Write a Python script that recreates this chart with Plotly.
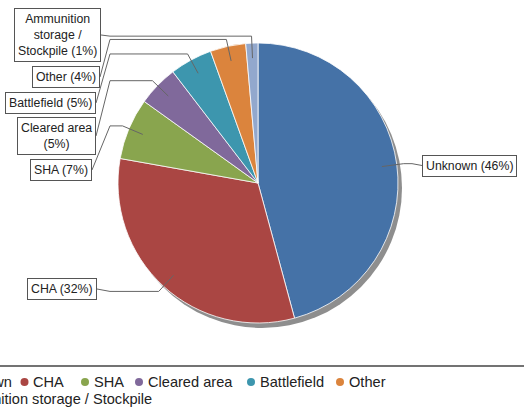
import math
import plotly.graph_objects as go

W, H = 524, 417

# ---- data ----
categories = ["Unknown", "CHA", "SHA", "Cleared area", "Battlefield", "Other",
              "Ammunition storage / Stockpile"]
values = [45.8, 32.0, 7.1, 4.7, 4.9, 4.1, 1.4]
label_templates = ["Unknown ({p}%)", "CHA ({p}%)", "SHA ({p}%)", "Cleared area<br>({p}%)",
                   "Battlefield ({p}%)", "Other ({p}%)", "Ammunition<br>storage /<br>Stockpile ({p}%)"]
colors = ["#4572A7", "#AA4643", "#89A54E", "#80699B", "#3D96AE", "#DB843D", "#92A8CD"]

# ---- layout constants (pixels) ----
CX, CY, R = 258, 183, 140
SHADOW_DX, SHADOW_DY = 4, 5
R_IN, R_BEND = R - 15, R + 7
label_side = ["right", "left", "left", "left", "left", "left", "left"]
label_edge_x = [422, 97, 92, 96, 96, 100, 101]
label_y = [165.5, 289, 170, 136, 103, 77, 35]
COL_LEFT, COL_RIGHT = 110, 412

legend_rows = [[0, 1, 2, 3, 4, 5], [6]]
legend_dot_x = [[-58, 24.5, 85, 139, 251, 340], [-58]]
legend_row_y = [382, 399]

FONT = "Liberation Sans, Arial, Helvetica, sans-serif"


def px(x):
    return x / W


def py(y):
    return 1 - y / H


fig = go.Figure()

# shadow pie
fig.add_trace(go.Pie(
    values=[1], labels=["shadow"], sort=False, textinfo="none", hoverinfo="skip",
    marker=dict(colors=["#8e8e8e"], line=dict(width=0)),
    domain=dict(x=[px(CX - R + SHADOW_DX), px(CX + R + SHADOW_DX)],
                y=[py(CY + R + SHADOW_DY), py(CY - R + SHADOW_DY)]),
    showlegend=False,
))

# main pie
fig.add_trace(go.Pie(
    values=values, labels=categories, sort=False, direction="clockwise", rotation=0,
    textinfo="none", hoverinfo="label+percent",
    marker=dict(colors=colors, line=dict(color="white", width=0.8)),
    domain=dict(x=[px(CX - R), px(CX + R)], y=[py(CY + R), py(CY - R)]),
    showlegend=False,
))

shapes = []
annotations = []

total = sum(values)
cum = 0.0
for i, v in enumerate(values):
    start = cum / total * 360
    cum += v
    end = cum / total * 360
    mid = math.radians((start + end) / 2)
    ix, iy = CX + R_IN * math.sin(mid), CY - R_IN * math.cos(mid)
    bx, by = CX + R_BEND * math.sin(mid), CY - R_BEND * math.cos(mid)
    col = COL_LEFT if label_side[i] == "left" else COL_RIGHT
    ex, ey = label_edge_x[i], label_y[i]
    path = "M {:.5f},{:.5f} L {:.5f},{:.5f} L {:.5f},{:.5f} L {:.5f},{:.5f}".format(
        px(ex), py(ey), px(col), py(by), px(bx), py(by), px(ix), py(iy))
    shapes.append(dict(type="path", xref="paper", yref="paper", path=path,
                       line=dict(color="#666666", width=1), layer="above"))
    text = label_templates[i].format(p=round(v / total * 100))
    anchor = "right" if label_side[i] == "left" else "left"
    annotations.append(dict(
        x=px(ex), y=py(ey), xref="paper", yref="paper", text=text,
        showarrow=False, xanchor=anchor, yanchor="middle", align="center",
        font=dict(family=FONT, size=12.3, color="#222222"),
        bgcolor="white", bordercolor="#555555", borderwidth=1, borderpad=3))

# legend top border
shapes.append(dict(type="line", xref="paper", yref="paper", x0=0, x1=1,
                   y0=py(366), y1=py(366), line=dict(color="#444444", width=1.5)))

# legend items
for r, row in enumerate(legend_rows):
    yy = legend_row_y[r]
    for j, idx in enumerate(row):
        dx = legend_dot_x[r][j]
        shapes.append(dict(type="circle", xref="paper", yref="paper",
                           x0=px(dx - 4), x1=px(dx + 4), y0=py(yy + 4), y1=py(yy - 4),
                           fillcolor=colors[idx], line=dict(width=0)))
        annotations.append(dict(
            x=px(dx + 6.5), y=py(yy), xref="paper", yref="paper", text=categories[idx],
            showarrow=False, xanchor="left", yanchor="middle",
            font=dict(family=FONT, size=14.6, color="#222222")))

fig.update_layout(
    width=W, height=H, margin=dict(l=0, r=0, t=0, b=0),
    paper_bgcolor="white", plot_bgcolor="white", showlegend=False,
    shapes=shapes, annotations=annotations,
)

fig.write_html("out.html", config={"displayModeBar": False},
               post_script="document.body.style.margin='0';document.body.style.overflow='hidden';")
